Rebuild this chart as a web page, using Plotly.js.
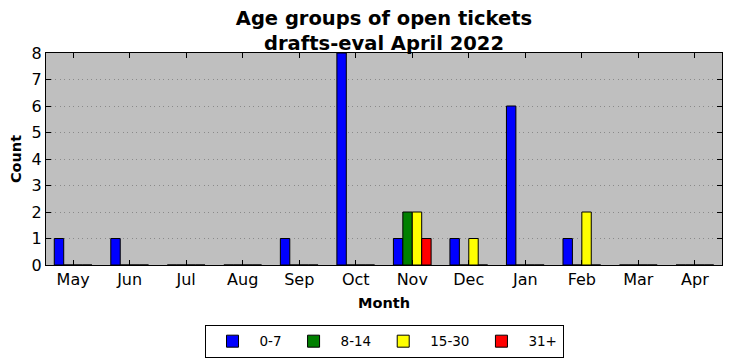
<!DOCTYPE html>
<html>
<head>
<meta charset="utf-8">
<script src="https://cdn.plot.ly/plotly-3.0.1.min.js"></script>
<style>html,body{margin:0;padding:0;background:#fff;}#chart{width:732px;height:361px;}</style>
</head>
<body>
<div id="chart"></div>
<script>
const months = ["May","Jun","Jul","Aug","Sep","Oct","Nov","Dec","Jan","Feb","Mar","Apr"];
const age0to7   = [1,1,0,0,1,8,1,1,6,1,0,0];
const age8to14  = [0,0,0,0,0,0,2,0,0,0,0,0];
const age15to30 = [0,0,0,0,0,0,2,1,0,2,0,0];
const age31plus = [0,0,0,0,0,0,1,0,0,0,0,0];
const seriesNames = ["0-7","8-14","15-30","31+"];
const seriesColors = ["#0000ff","#008000","#ffff00","#ff0000"];
const seriesValues = [age0to7, age8to14, age15to30, age31plus];

const xs = months.map((m,i)=>i);
const traces = seriesValues.map((vals,k)=>({
  type:'bar', x: xs, y: vals, name: seriesNames[k],
  marker:{color: seriesColors[k], line:{color:'#000', width:1}}
}));

const font = "DejaVu Sans, sans-serif";
const layout = {
  width:732, height:361,
  margin:{l:46, r:10, t:53, b:96},
  paper_bgcolor:'#fff', plot_bgcolor:'#bfbfbf',
  barmode:'group', bargap:0.333, bargroupgap:0,
  font:{family:font, color:'#000', size:16},
  title:{text:'<b>Age groups of open tickets<br>drafts-eval April 2022</b>', x:0.5246, xanchor:'center',
    yref:'paper', y:1, yanchor:'bottom', pad:{b:28}, font:{size:19.5, family:font}, automargin:false},
  xaxis:{
    range:[-0.48,11.48], tickmode:'array', tickvals:xs, ticktext:months,
    ticks:'inside', ticklen:5, tickcolor:'#000', mirror:'allticks',
    showline:true, linecolor:'#000', linewidth:1, showgrid:false, zeroline:false,
    tickfont:{size:16, family:font}, automargin:false,
    title:{text:'<b>Month</b>', font:{size:14.5, family:font}, standoff:9}
  },
  yaxis:{
    range:[0,8], dtick:1, ticks:'inside', ticklen:5, tickcolor:'#000', mirror:'allticks',
    showline:true, linecolor:'#000', linewidth:1,
    showgrid:true, gridcolor:'#8a8a8a', griddash:'1px,3.5px', gridwidth:1, zeroline:false,
    tickfont:{size:16, family:font}, automargin:false,
    title:{text:'<b>Count</b>', font:{size:14.5, family:font}, standoff:6}
  },
  showlegend:true,
  legend:{orientation:'h', x:0.5, xanchor:'center', yref:'container', y:0.1, yanchor:'top',
    bgcolor:'#fff', bordercolor:'#000', borderwidth:1, font:{size:13.5, family:font},
    itemwidth:44, tracegroupgap:0}
};
Plotly.newPlot('chart', traces, layout, {displayModeBar:false, staticPlot:true});
</script>
</body>
</html>
